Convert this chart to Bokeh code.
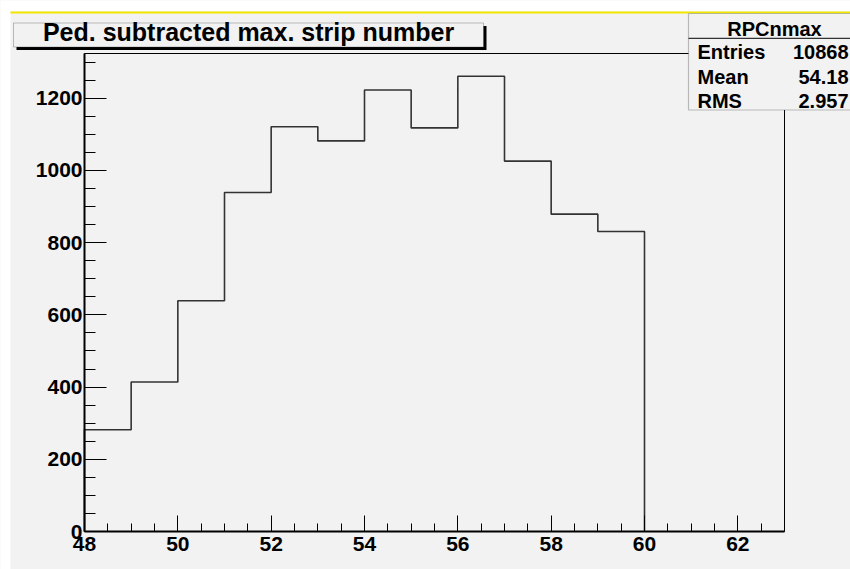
import numpy as np
from bokeh.plotting import figure
from bokeh.models import Range1d, SingleIntervalTicker, BoxAnnotation, Label, LinearAxis
from bokeh.embed import file_html
from bokeh.resources import INLINE

# ---- data ----
bin_edges = [48, 49, 50, 51, 52, 53, 54, 55, 56, 57, 58, 59, 60]
counts = [282, 414, 639, 939, 1121, 1082, 1223, 1118, 1261, 1026, 879, 831]
x_axis_range = [48, 63]
chart_title = "Ped. subtracted max. strip number"
hist_name = "RPCnmax"
stat_names = ["Entries", "Mean", "RMS"]
stat_values = ["10868", "54.18", "2.957"]

# ---- layout (pixels) ----
W, H = 850, 569
FL, FR, FT, FB = 84, 784, 53, 531   # histogram frame in canvas pixels
BG = "#f2f2f2"
FONT = "Liberation Sans"

y_top = 1.05 * max(counts)
x0, x1 = x_axis_range
xpp = (x1 - x0) / (FR - FL)
ypp = y_top / (FB - FT)
xr = Range1d(x0 - FL * xpp, x1 + (W - FR) * xpp)
yr = Range1d(-(H - FB) * ypp, y_top + FT * ypp)

p = figure(width=W, height=H, output_backend="svg", toolbar_location=None,
           x_range=xr, y_range=yr, x_axis_location=None, y_axis_location=None,
           min_border=0)
p.background_fill_color = BG
p.border_fill_color = BG
p.outline_line_color = None
p.xgrid.visible = False
p.ygrid.visible = False

# frame box
p.quad(left=[x0], right=[x1], bottom=[0], top=[y_top], fill_alpha=0,
       line_color="black", line_width=1)

# histogram outline
edges = np.array(bin_edges, dtype=float)
vals = np.array(counts, dtype=float)
xs = np.repeat(edges, 2)
ys = np.concatenate([[0.0], np.repeat(vals, 2), [0.0]])
p.line(xs, ys, line_color="#333333", line_width=1.6)

xaxis = LinearAxis(fixed_location=0, bounds=(x0, x1),
                   ticker=SingleIntervalTicker(interval=2, num_minor_ticks=4))
yaxis = LinearAxis(fixed_location=x0, bounds=(0, y_top),
                   ticker=SingleIntervalTicker(interval=200, num_minor_ticks=4))
for ax in (xaxis, yaxis):
    ax.axis_line_color = "black"
    ax.axis_line_width = 2
    ax.major_tick_out = 0
    ax.minor_tick_out = 0
    ax.major_tick_line_color = "black"
    ax.minor_tick_line_color = "black"
    ax.major_label_text_font = FONT
    ax.major_label_text_font_style = "bold"
    ax.major_label_text_font_size = "21px"
    ax.major_label_text_color = "black"
xaxis.major_tick_in = 16
xaxis.minor_tick_in = 8
yaxis.major_tick_in = 22
yaxis.minor_tick_in = 11
xaxis.major_label_standoff = 5
yaxis.major_label_standoff = 2
p.add_layout(xaxis, "below")
p.add_layout(yaxis, "left")


def sbox(left, right, top, bottom, **kw):
    # box given in canvas pixels from top-left
    return BoxAnnotation(left=left, right=right, top=H - top, bottom=H - bottom,
                         left_units="screen", right_units="screen",
                         top_units="screen", bottom_units="screen", **kw)


def slabel(x, y, text, size, align="left"):
    return Label(x=x, y=H - y, x_units="screen", y_units="screen", text=text,
                 text_font=FONT, text_font_style="bold", text_font_size=size,
                 text_align=align, text_baseline="middle", text_color="black")


# white page edges and yellow canvas line
p.add_layout(sbox(0, 10, 0, H, fill_color="white", fill_alpha=1, line_alpha=0))
p.add_layout(sbox(0, W, 0, 11, fill_color="white", fill_alpha=1, line_alpha=0))
p.add_layout(sbox(10, W, 11, 13, fill_color="#f2e600", fill_alpha=1, line_alpha=0))

# title box with shadow
p.add_layout(sbox(16, 486, 25.5, 49.5, fill_color="black", fill_alpha=1, line_alpha=0))
p.add_layout(sbox(13, 483, 22.5, 46.5, fill_color=BG, fill_alpha=1,
                  line_color="#333333", line_width=1))
p.add_layout(slabel(248, 31, chart_title, "25px", "center"))

# stats box
p.add_layout(sbox(688, 870, 13, 109.5, fill_color=BG, fill_alpha=1,
                  line_color="#333333", line_width=1.2))
p.add_layout(sbox(688, 870, 37.2, 38.4, fill_color="#333333", fill_alpha=1, line_alpha=0))
p.add_layout(slabel(774, 28, hist_name, "20px", "center"))
row_y = [51, 76, 100]
for name, val, yy in zip(stat_names, stat_values, row_y):
    p.add_layout(slabel(697, yy, name, "20px", "left"))
    p.add_layout(slabel(848, yy, val, "20px", "right"))

open("out.html", "w").write(file_html(p, INLINE))
